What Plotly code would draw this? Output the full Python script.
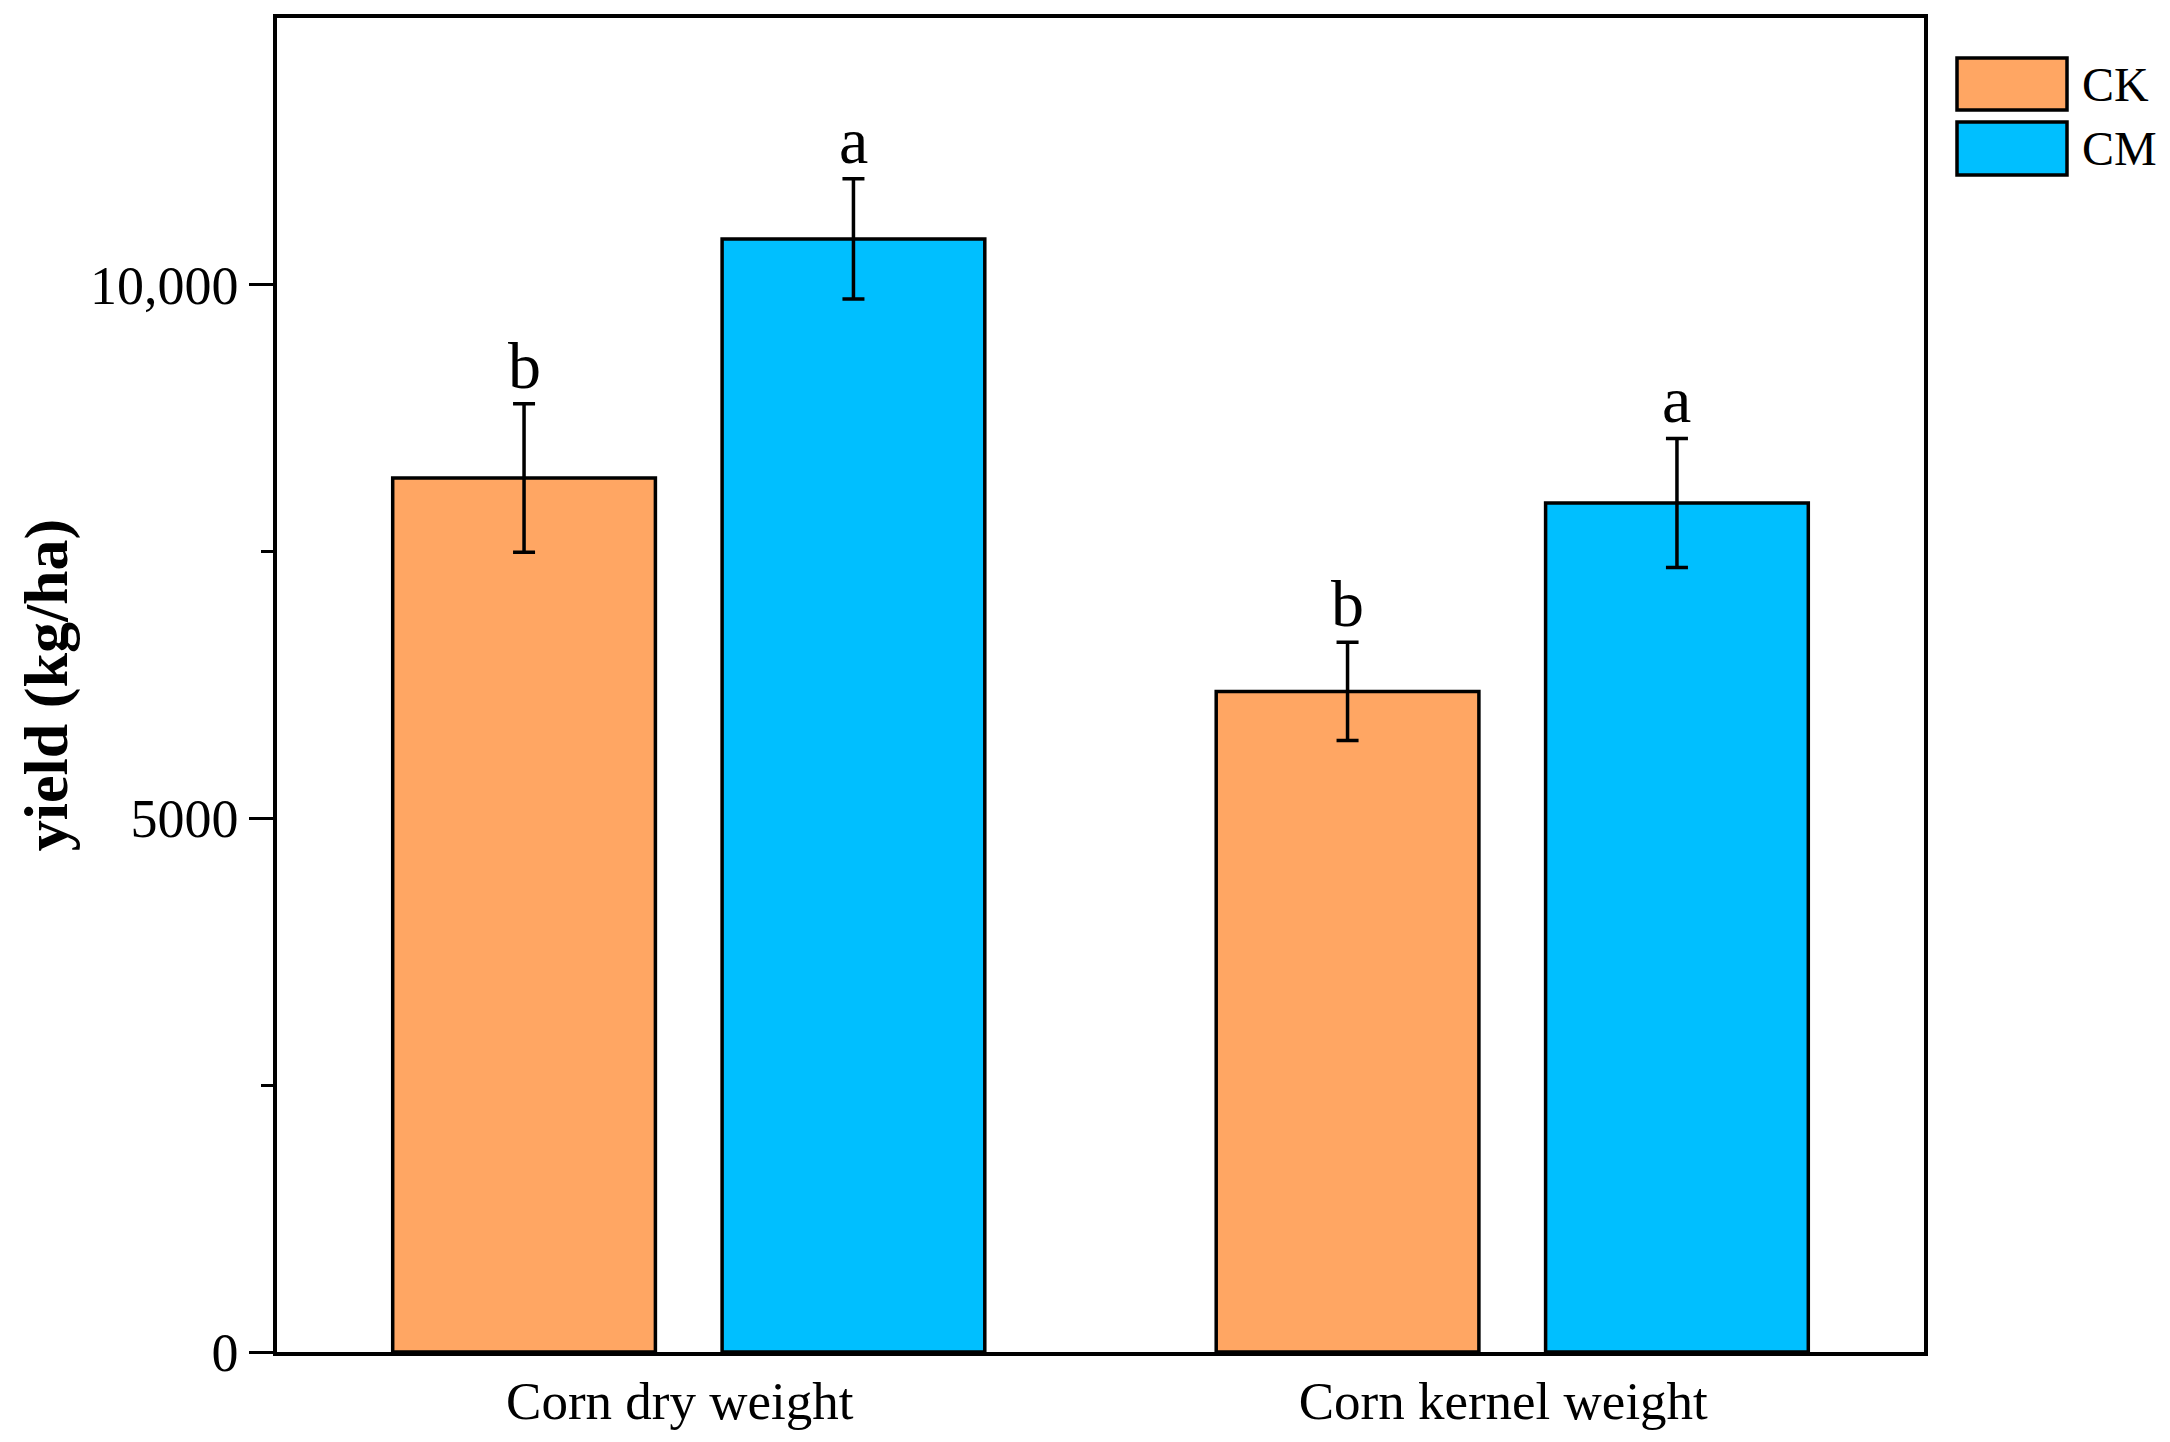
import plotly.graph_objects as go

categories = ["Corn dry weight", "Corn kernel weight"]
series_names = ["CK", "CM"]
ck_values = [8190, 6190]
ck_errors = [695, 460]
cm_values = [10430, 7955]
cm_errors = [563, 605]
ck_letters = ["b", "b"]
cm_letters = ["a", "a"]
ytick_vals = [0, 5000, 10000]
ytick_text = ["0", "5000", "10,000"]
yminor_vals = [2500, 7500]

colors = {"CK": "#FFA663", "CM": "#00BFFF"}
FONT = "Liberation Serif, Times New Roman, serif"

W, H = 2170, 1442
L, R, T, B = 277, 246, 18, 90
pw, ph = W - L - R, H - T - B

BARGAP, GROUPGAP = 0.2, 0.2025
slot = (1 - BARGAP) / 2

fig = go.Figure()
for name, vals, errs in [("CK", ck_values, ck_errors), ("CM", cm_values, cm_errors)]:
    fig.add_trace(go.Bar(
        name=name, x=categories, y=vals,
        marker=dict(color=colors[name], line=dict(color="black", width=3.5)),
        error_y=dict(type="data", array=errs, visible=True, color="black",
                     thickness=3.5, width=11),
        showlegend=False,
    ))

# significance letters
for idx, (vals, errs, letters) in enumerate([(ck_values, ck_errors, ck_letters),
                                              (cm_values, cm_errors, cm_letters)]):
    offset = -slot / 2 if idx == 0 else slot / 2
    for i, (v, e, t) in enumerate(zip(vals, errs, letters)):
        fig.add_annotation(x=i + offset, y=v + e, xref="x", yref="y", text=t,
                           showarrow=False, yanchor="bottom", yshift=0,
                           font=dict(family=FONT, size=66, color="black"))

# manual legend (large swatches)
def px2x(px):
    return (px - L) / pw

def py2y(py):
    return (H - B - py) / ph

legend_rows = [("CK", 58, 110), ("CM", 122, 175)]
for name, y0, y1 in legend_rows:
    fig.add_shape(type="rect", xref="paper", yref="paper",
                  x0=px2x(1957), x1=px2x(2067), y0=py2y(y1), y1=py2y(y0),
                  fillcolor=colors[name], line=dict(color="black", width=3.5))
    fig.add_annotation(xref="paper", yref="paper", x=px2x(2080), y=py2y((y0 + y1) / 2),
                       text=name, showarrow=False, xanchor="left", yanchor="middle",
                       font=dict(family=FONT, size=48, color="black"))

fig.update_layout(
    width=W, height=H,
    margin=dict(l=L, r=R, t=T, b=B, pad=0),
    paper_bgcolor="white", plot_bgcolor="white",
    barmode="group", bargap=BARGAP, bargroupgap=GROUPGAP,
    font=dict(family=FONT, color="black"),
)
fig.update_xaxes(
    range=[-0.5, 1.5], showline=True, linecolor="black", linewidth=3.5, mirror=True,
    ticks="", showgrid=False, zeroline=False, ticklabelshift=-9,
    tickfont=dict(family=FONT, size=53, color="black"),
)
fig.update_yaxes(
    range=[0, 12500], showline=True, linecolor="black", linewidth=3.5, mirror=True,
    tickvals=ytick_vals, ticktext=ytick_text, ticks="outside", ticklen=24,
    tickwidth=3, tickcolor="black", showgrid=False, zeroline=False,
    tickfont=dict(family=FONT, size=54, color="black"),
    minor=dict(tickvals=yminor_vals, ticks="outside", ticklen=12, tickwidth=3,
               tickcolor="black", showgrid=False),
    title=dict(text="<b>yield (kg/ha)</b>", font=dict(family=FONT, size=62, color="black"),
               standoff=3),
)

fig.write_html("out.html", config={"displayModeBar": False},
               post_script="document.body.style.margin='0';document.body.style.overflow='hidden';")
